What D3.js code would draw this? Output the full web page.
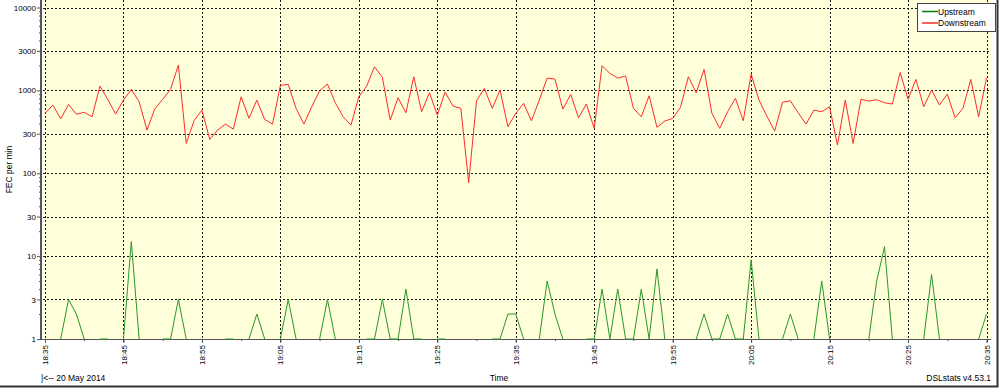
<!DOCTYPE html>
<html>
<head>
<meta charset="utf-8">
<script src="https://cdn.jsdelivr.net/npm/d3@7/dist/d3.min.js"></script>
<style>
  html, body { margin: 0; padding: 0; background: #ffffff; }
  svg { display: block; font-family: "Liberation Sans", Arial, sans-serif; }
</style>
</head>
<body>
<svg id="chart" width="999" height="388"></svg>
<script>
const WIDTH = 999;
const HEIGHT = 388;
const PLOT_LEFT = 43;
const PLOT_RIGHT = 991;
const PLOT_BOTTOM = 339;
const COLOR_PLOT = '#ffffd9';
const COLOR_UP = '#2a962a';
const COLOR_UP_LEGEND = '#008000';
const COLOR_DOWN = '#ff2a2a';
const COLOR_AXIS = '#555555';

// one sample per minute, 18:35 .. 20:35 on 20 May 2014
const startTime = new Date(2014, 4, 20, 18, 35);

const downstream = [
  528, 665, 454, 678, 514, 543, 480, 1127, 779, 518,
  764, 1028, 729, 332, 600, 780, 1028, 2018, 229, 430,
  578, 256, 332, 392, 341, 838, 459, 764, 446, 392,
  1149, 1182, 607, 392, 634, 989, 1191, 709, 480, 381,
  838, 1127, 1927, 1435, 438, 815, 537, 1459, 552, 935,
  503, 953, 647, 607, 77, 749, 1057, 607, 1009, 364,
  528, 697, 430, 764, 1407, 1368, 594, 894, 467, 684,
  348, 1982, 1603, 1407, 1487, 607, 480, 861, 358, 426,
  459, 624, 1459, 935, 1791, 528, 348, 552, 800, 430,
  1573, 764, 490, 323, 717, 749, 537, 392, 578, 552,
  634, 219, 764, 229, 780, 743, 772, 709, 684, 1648,
  780, 1357, 634, 1009, 665, 902, 467, 607, 1357, 480,
  1419
];

const upstream = [
  0, 0, 1, 3, 2, 1, 0, 1, 1, 0,
  1, 15, 1, 0, 0, 1, 1, 3, 1, 0,
  0, 0, 0, 1, 1, 0, 1, 2, 1, 0,
  1, 3, 1, 0, 0, 1, 3, 1, 0, 0,
  0, 1, 1, 3, 1, 1, 4, 1, 1, 0,
  1, 1, 0, 0, 0, 0, 0, 1, 1, 2,
  2, 1, 0, 1, 5, 2, 1, 0, 0, 1,
  1, 4, 1, 4, 1, 1, 4, 1, 7, 1,
  0, 0, 0, 1, 2, 1, 1, 2, 1, 1,
  9, 1, 0, 0, 1, 2, 1, 0, 1, 5,
  1, 0, 0, 0, 0, 1, 5, 13, 1, 0,
  0, 0, 1, 6, 1, 0, 0, 0, 0, 1,
  2
];

const yMajorTicks = [1, 3, 10, 30, 100, 300, 1000, 3000, 10000];
const xTickLabels = ['18:35', '18:45', '18:55', '19:05', '19:15', '19:25',
  '19:35', '19:45', '19:55', '20:05', '20:15', '20:25', '20:35'];
const seriesNames = ['Upstream', 'Downstream'];

const minuteAt = i => d3.timeMinute.offset(startTime, i);
const toPoints = arr => arr.map((v, i) => ({ t: minuteAt(i), v }));

const svg = d3.select('#chart');
const crisp = v => Math.round(v) + 0.5;

const x = d3.scaleTime()
  .domain([startTime, minuteAt(120)])
  .range([45, 986.5]);

const y = d3.scaleLog()
  .domain([1, 10000])
  .range([PLOT_BOTTOM, 7.5]);

const majorTimes = xTickLabels.map((_, k) => minuteAt(k * 10));
const minorTimes = xTickLabels.slice(0, -1).map((_, k) => minuteAt(k * 10 + 5));

const yMinorTicks = [];
for (let e = 0; e < 4; e++) {
  for (let m = 2; m <= 9; m++) {
    const v = m * Math.pow(10, e);
    if (m !== 3) yMinorTicks.push(v);
  }
}

// plot background
svg.append('rect')
  .attr('x', PLOT_LEFT)
  .attr('y', 0)
  .attr('width', PLOT_RIGHT - PLOT_LEFT)
  .attr('height', PLOT_BOTTOM)
  .attr('fill', COLOR_PLOT);

// dotted grid
const grid = svg.append('g')
  .attr('stroke', '#1a1a1a')
  .attr('stroke-width', 1)
  .attr('stroke-dasharray', '2,2');

grid.selectAll('line.hgrid')
  .data(yMajorTicks.filter(v => v > 1))
  .join('line')
  .attr('class', 'hgrid')
  .attr('x1', PLOT_LEFT)
  .attr('x2', PLOT_RIGHT)
  .attr('y1', d => crisp(y(d)))
  .attr('y2', d => crisp(y(d)));

grid.selectAll('line.vgrid')
  .data(majorTimes)
  .join('line')
  .attr('class', 'vgrid')
  .attr('x1', d => crisp(x(d)))
  .attr('x2', d => crisp(x(d)))
  .attr('y1', 0)
  .attr('y2', PLOT_BOTTOM + 4);

// y axis (major + minor)
const yAxis = svg.append('g')
  .attr('transform', 'translate(42,0)')
  .call(d3.axisLeft(y)
    .tickValues(yMajorTicks)
    .tickFormat(d3.format('d'))
    .tickSize(5)
    .tickPadding(1));

svg.append('g')
  .attr('transform', 'translate(42,0)')
  .call(d3.axisLeft(y).tickValues(yMinorTicks).tickFormat('').tickSize(3))
  .call(g => g.select('.domain').remove());

yAxis.select('.domain').remove();
svg.selectAll('.tick line').attr('stroke', COLOR_AXIS);
yAxis.selectAll('text')
  .attr('fill', '#000')
  .style('font-size', '8px');

// x axis (major + minor)
const xAxis = svg.append('g')
  .attr('transform', `translate(0,${PLOT_BOTTOM})`)
  .call(d3.axisBottom(x)
    .tickValues(majorTimes)
    .tickFormat((d, k) => xTickLabels[k])
    .tickSize(4));

xAxis.select('.domain').remove();
xAxis.selectAll('text')
  .attr('transform', 'rotate(-90)')
  .attr('x', -6)
  .attr('y', 0)
  .attr('dy', '0.32em')
  .attr('text-anchor', 'end')
  .attr('fill', '#000')
  .style('font-size', '8px');

svg.append('g')
  .attr('transform', `translate(0,${PLOT_BOTTOM})`)
  .call(d3.axisBottom(x).tickValues(minorTimes).tickFormat('').tickSize(2))
  .call(g => g.select('.domain').remove())
  .selectAll('.tick line').attr('stroke', COLOR_AXIS);

xAxis.selectAll('.tick line').attr('stroke', COLOR_AXIS);

// axis lines
svg.append('line')
  .attr('x1', 41).attr('x2', 41)
  .attr('y1', 0).attr('y2', PLOT_BOTTOM + 1)
  .attr('stroke', COLOR_AXIS)
  .attr('stroke-width', 2);

svg.append('line')
  .attr('x1', 40).attr('x2', PLOT_RIGHT)
  .attr('y1', PLOT_BOTTOM + 0.5).attr('y2', PLOT_BOTTOM + 0.5)
  .attr('stroke', COLOR_AXIS)
  .attr('stroke-width', 1);

// series
const line = d3.line()
  .defined(d => d.v > 0)
  .x(d => x(d.t))
  .y(d => y(d.v));

svg.append('path')
  .datum(toPoints(upstream))
  .attr('d', line)
  .attr('fill', 'none')
  .attr('stroke', COLOR_UP)
  .attr('stroke-width', 1);

svg.append('path')
  .datum(toPoints(downstream))
  .attr('d', line)
  .attr('fill', 'none')
  .attr('stroke', COLOR_DOWN)
  .attr('stroke-width', 1);

// titles
svg.append('text')
  .attr('transform', `translate(12,${PLOT_BOTTOM / 2}) rotate(-90)`)
  .attr('text-anchor', 'middle')
  .style('font-size', '8.5px')
  .text('FEC per min');

svg.append('text')
  .attr('x', 41).attr('y', 381)
  .style('font-size', '8.5px')
  .text('|<-- 20 May 2014');

svg.append('text')
  .attr('x', 499).attr('y', 381)
  .attr('text-anchor', 'middle')
  .style('font-size', '8.5px')
  .text('Time');

svg.append('text')
  .attr('x', 991).attr('y', 381)
  .attr('text-anchor', 'end')
  .style('font-size', '8.5px')
  .text('DSLstats v4.53.1');

// legend
const legend = svg.append('g').attr('transform', 'translate(917,3)');
legend.append('rect')
  .attr('x', 0.5).attr('y', 0.5)
  .attr('width', 78).attr('height', 28)
  .attr('fill', '#ffffff')
  .attr('stroke', '#444444');

const legendColors = [COLOR_UP_LEGEND, COLOR_DOWN];
const legendItems = legend.selectAll('g.item')
  .data(seriesNames)
  .join('g')
  .attr('class', 'item')
  .attr('transform', (d, k) => `translate(0,${8 + k * 11.5})`);

legendItems.append('line')
  .attr('x1', 5).attr('x2', 21)
  .attr('y1', 0.5).attr('y2', 0.5)
  .attr('stroke', (d, k) => legendColors[k])
  .attr('stroke-width', 1.5);

legendItems.append('text')
  .attr('x', 21).attr('y', 3.5)
  .style('font-size', '8.5px')
  .text(d => d);

// outer frame
svg.append('path')
  .attr('d', `M${WIDTH - 1.5},0V${HEIGHT - 1.5}H0`)
  .attr('fill', 'none')
  .attr('stroke', '#333333')
  .attr('stroke-width', 2);
</script>
</body>
</html>
